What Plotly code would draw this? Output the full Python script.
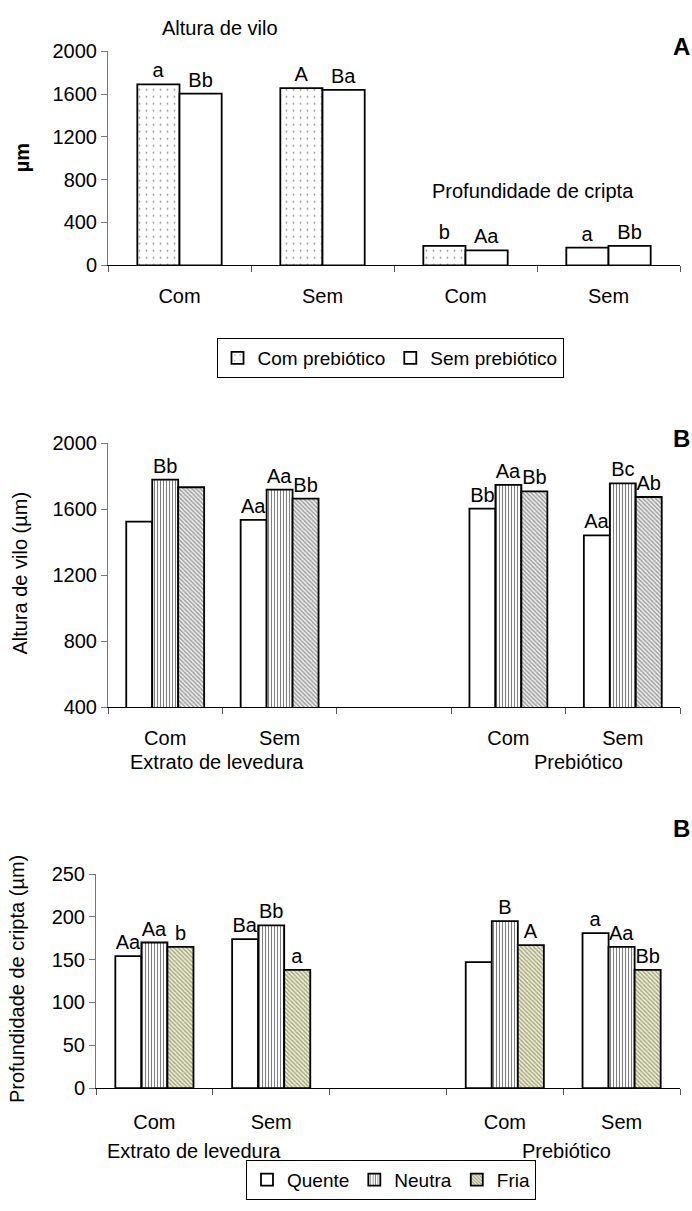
import plotly.graph_objects as go

# ---------------- data ----------------
# Panel A (two groups: villus height and crypt depth)
cats_A = ["Com", "Sem", "Com", "Sem"]
com_preb_A = [1690, 1655, 181, 165]
sem_preb_A = [1605, 1640, 140, 181]
lab_com_preb_A = ["a", "A", "b", "a"]
lab_sem_preb_A = ["Bb", "Ba", "Aa", "Bb"]

# Panel B (villus height) - Extrato de levedura (Com, Sem), gap, Prebiótico (Com, Sem)
cats_BC = ["Com", "Sem", "", "Com", "Sem"]
quente_B = [1524, 1534, None, 1603, 1441]
neutra_B = [1778, 1718, None, 1746, 1756]
fria_B = [1732, 1663, None, 1707, 1673]
lab_quente_B = ["", "Aa", "", "Bb", "Aa"]
lab_neutra_B = ["Bb", "Aa", "", "Aa", "Bc"]
lab_fria_B = ["", "Bb", "", "Bb", "Ab"]

# Panel C (crypt depth)
quente_C = [154, 174, None, 147, 181]
neutra_C = [170, 190, None, 195, 165]
fria_C = [165, 138, None, 167, 138]
lab_quente_C = ["Aa", "Ba", "", "", "a"]
lab_neutra_C = ["Aa", "Bb", "", "B", "Aa"]
lab_fria_C = ["b", "a", "", "A", "Bb"]

FONT = "Liberation Sans, Arial, sans-serif"
FS = 20
W, H = 692, 1211

def px_x(p):
    return p / W

def px_y(p):
    return 1 - p / H

fig = go.Figure()

line = dict(color="black", width=1.8)

def bar(x, y, text, name, xa, ya, w, off, pattern, legend=None, showlegend=False):
    fig.add_trace(go.Bar(
        x=x, y=y, text=text, name=name, xaxis=xa, yaxis=ya,
        width=w, offset=off,
        textposition="outside", cliponaxis=False, constraintext="none",
        textfont=dict(family=FONT, size=FS, color="black"),
        marker=dict(color="white", line=line, pattern=pattern),
        showlegend=showlegend, legend=legend, hoverinfo="skip",
    ))

xA = list(range(len(cats_A)))
xBC = list(range(len(cats_BC)))

# Panel A
wA = 0.295
bar(xA, com_preb_A, lab_com_preb_A, "Com prebiótico", "x", "y", wA, -wA,
    dict(shape=[".", ".", ".", ""], size=7, solidity=0.05, fgcolor="#222222", bgcolor="white"),
    legend="legend", showlegend=True)
bar(xA, sem_preb_A, lab_sem_preb_A, "Sem prebiótico", "x", "y", wA, 0,
    dict(shape=""), legend="legend", showlegend=True)

# Panel B
wB = 0.227
pat_q = dict(shape="")
pat_n = dict(shape="|", size=3, solidity=0.36, fgcolor="black", bgcolor="white")
pat_fB = dict(shape="\\", size=3, solidity=0.45, fgcolor="#444444", bgcolor="#eeeeee")
pat_fC = dict(shape="\\", size=3, solidity=0.45, fgcolor="#55553a", bgcolor="#eeeed0")
bar(xBC, quente_B, lab_quente_B, "Quente", "x2", "y2", wB, -1.5 * wB, pat_q)
bar(xBC, neutra_B, lab_neutra_B, "Neutra", "x2", "y2", wB, -0.5 * wB, pat_n)
bar(xBC, fria_B, lab_fria_B, "Fria", "x2", "y2", wB, 0.5 * wB, pat_fB)

# Panel C
wC = 0.223
bar(xBC, quente_C, lab_quente_C, "Quente", "x3", "y3", wC, -1.5 * wC, pat_q, legend="legend2", showlegend=True)
bar(xBC, neutra_C, lab_neutra_C, "Neutra", "x3", "y3", wC, -0.5 * wC, pat_n, legend="legend2", showlegend=True)
bar(xBC, fria_C, lab_fria_C, "Fria", "x3", "y3", wC, 0.5 * wC, pat_fC, legend="legend2", showlegend=True)

tickfont = dict(family=FONT, size=FS, color="black")

def xaxis(n, dom, tickvals, ticktext, standoff):
    return dict(
        domain=dom, range=[-0.5, n - 0.5], showgrid=False, zeroline=False,
        showline=True, linecolor="black", linewidth=1,
        tickmode="array", tickvals=tickvals, ticktext=ticktext, ticks="",
        ticklabelstandoff=standoff, tickfont=tickfont,
        minor=dict(tickmode="array", tickvals=[i - 0.5 for i in range(n + 1)],
                   ticks="outside", ticklen=6, tickcolor="#555555", tickwidth=1),
        fixedrange=True,
    )

def yaxis(dom, rng, dtick, anchor):
    return dict(
        domain=dom, range=rng, dtick=dtick, tick0=rng[0], showgrid=False, zeroline=False,
        showline=True, linecolor="#777777", linewidth=1,
        ticks="outside", ticklen=6, tickcolor="#777777", tickfont=tickfont,
        anchor=anchor, fixedrange=True,
    )

domA_x = [px_x(108), px_x(680)]
domC_x = [px_x(96), px_x(680)]

legfont = dict(family=FONT, size=19, color="black")

fig.update_layout(
    width=W, height=H, margin=dict(l=0, r=0, t=0, b=0),
    paper_bgcolor="white", plot_bgcolor="white",
    barmode="overlay",
    font=dict(family=FONT, size=FS, color="black"),
    xaxis=xaxis(4, domA_x, xA, cats_A, 13) | dict(anchor="y"),
    yaxis=yaxis([px_y(259), px_y(41)], [0, 2000], 400, "x"),
    xaxis2=xaxis(5, domA_x, [0, 1, 3, 4], [cats_BC[i] for i in [0, 1, 3, 4]], 13) | dict(anchor="y2"),
    yaxis2=yaxis([px_y(709), px_y(440)], [400, 2000], 400, "x2"),
    xaxis3=xaxis(5, domC_x, [0, 1, 3, 4], [cats_BC[i] for i in [0, 1, 3, 4]], 16) | dict(anchor="y3"),
    yaxis3=yaxis([px_y(1097), px_y(879)], [0, 250], 50, "x3"),
    legend=dict(
        orientation="h", x=px_x(390), y=px_y(333), xanchor="center", yanchor="top",
        bordercolor="black", borderwidth=1, bgcolor="white",
        font=legfont, itemwidth=30, tracegroupgap=0,
    ),
    legend2=dict(
        orientation="h", x=px_x(391), y=px_y(1170), xanchor="center", yanchor="top",
        bordercolor="black", borderwidth=1, bgcolor="white",
        font=legfont, itemwidth=30,
    ),
)

ann = []

def txt(text, x, y, size=FS, bold=False, angle=0, xref="paper"):
    ann.append(dict(
        text=f"<b>{text}</b>" if bold else text,
        x=x, y=y, xref=xref, yref="paper", showarrow=False,
        xanchor="center", yanchor="middle", textangle=angle,
        font=dict(family=FONT, size=size, color="black"),
    ))

# titles / panel letters
txt("Altura de vilo", px_x(220), px_y(17))
txt("Profundidade de cripta", px_x(533), px_y(183))
txt("A", px_x(681), px_y(36), size=24, bold=True)
txt("B", px_x(681), px_y(435), size=24, bold=True)
txt("B", px_x(681), px_y(833), size=24, bold=True)
# y-axis titles
txt("µm", px_x(22), px_y(150), bold=True, angle=-90)
txt("Altura de vilo (µm)", px_x(20), px_y(573), angle=-90)
txt("Profundidade de cripta (µm)", px_x(17), px_y(986), angle=-90)
# group labels
txt("Extrato de levedura", 0.45, px_y(765), xref="x2")
txt("Prebiótico", 3.61, px_y(765), xref="x2")
txt("Extrato de levedura", 0.34, px_y(1161), xref="x3")
txt("Prebiótico", 3.53, px_y(1161), xref="x3")

fig.update_layout(annotations=ann)

fig.write_html("out.html")
